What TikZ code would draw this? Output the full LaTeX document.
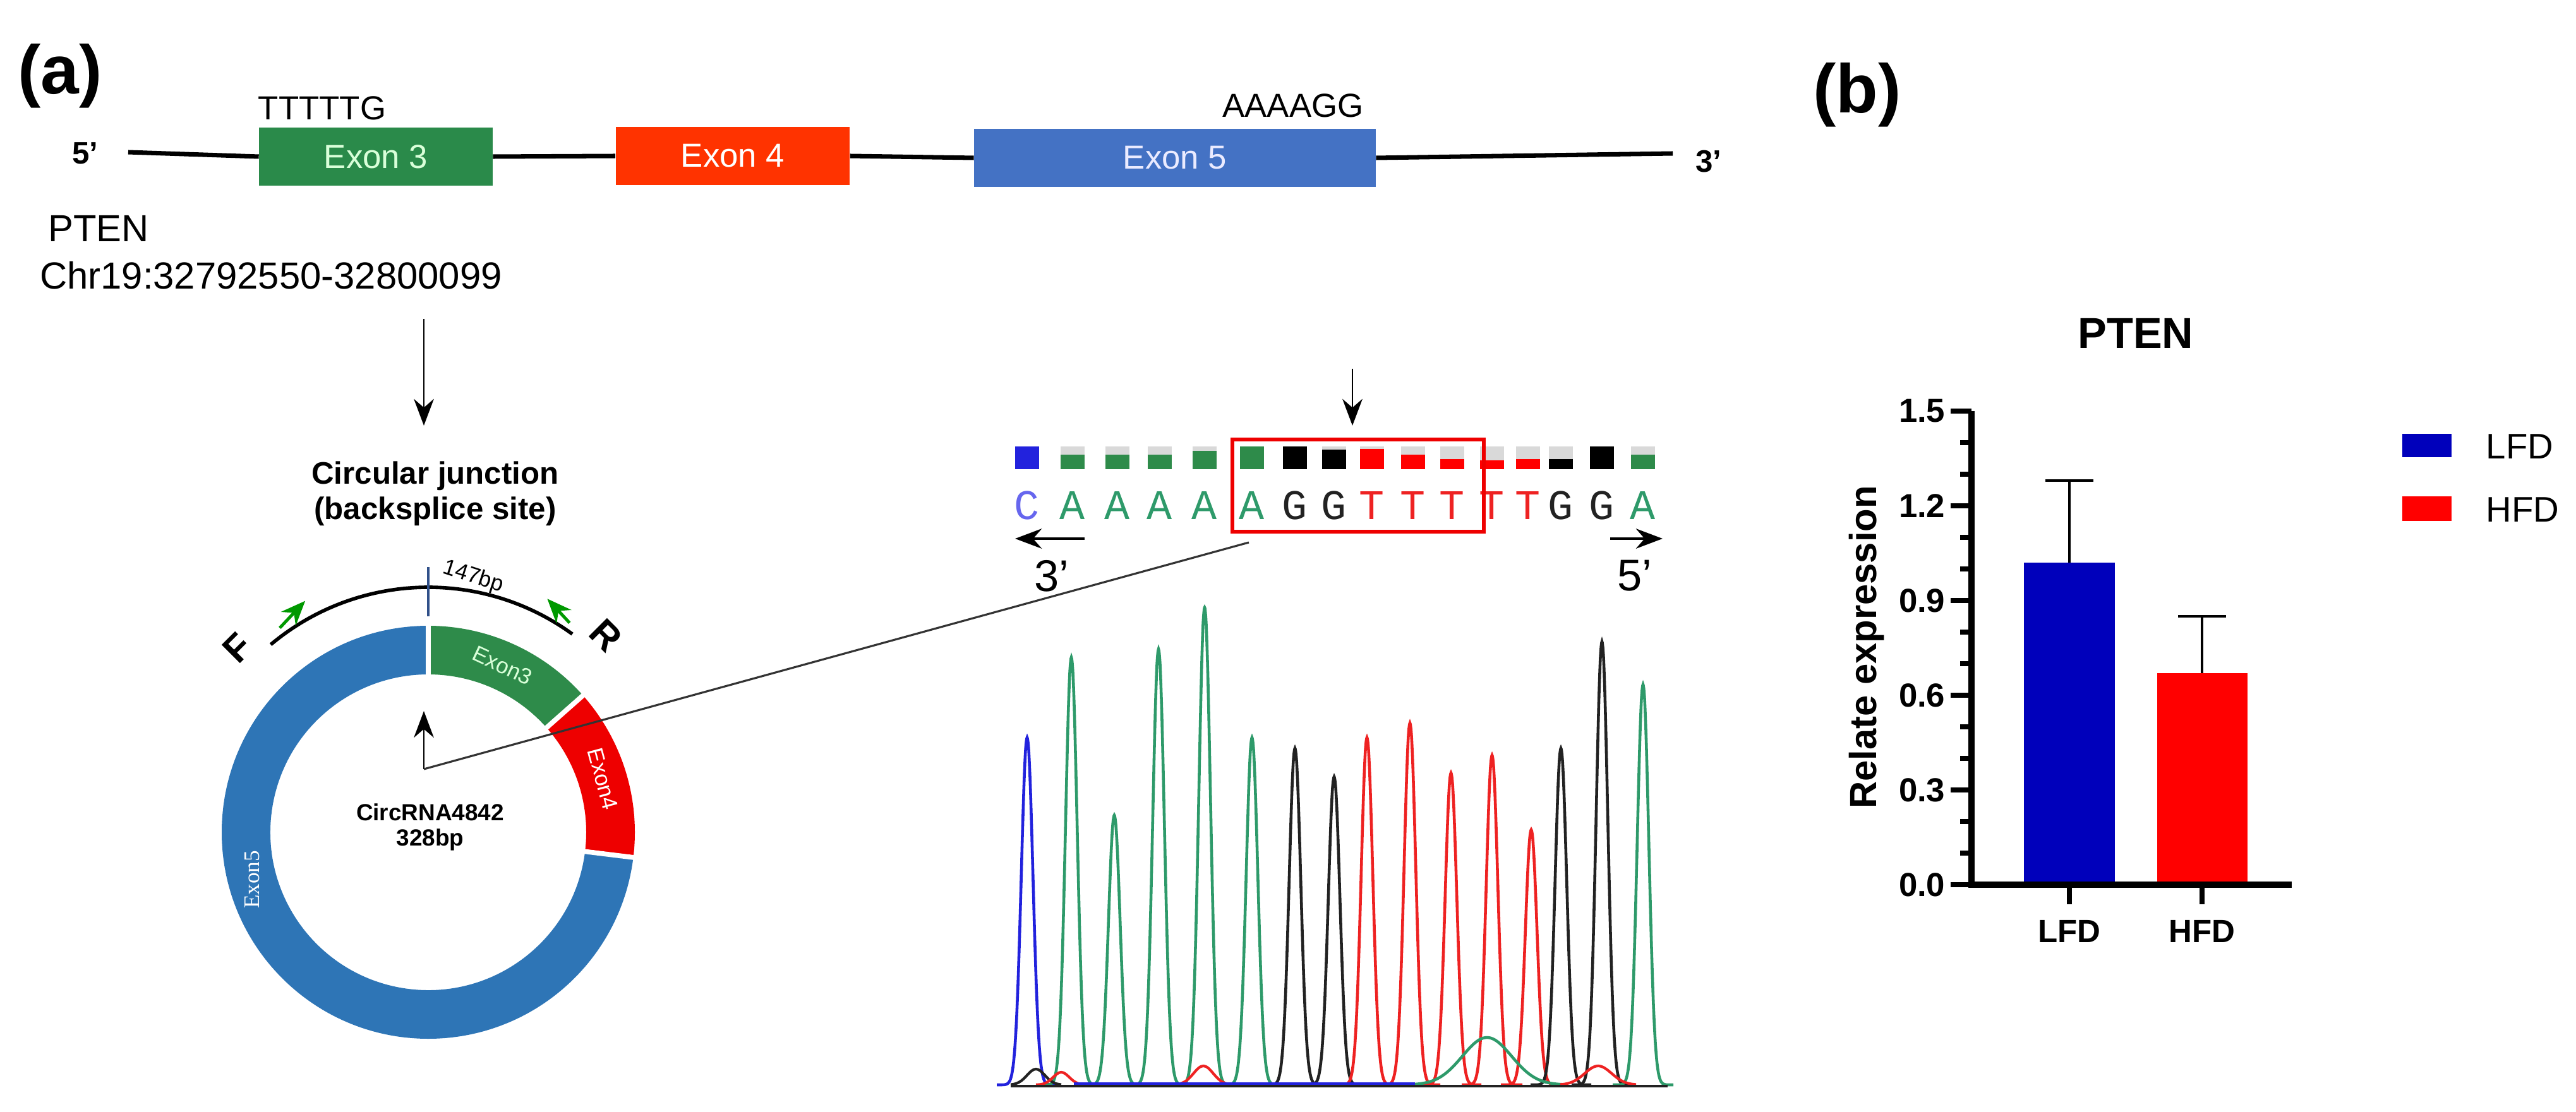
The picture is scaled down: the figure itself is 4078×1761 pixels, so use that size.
\documentclass[tikz,border=0pt]{standalone}
\usepackage{fontspec}
\setmainfont{Liberation Sans}
\newfontfamily\monof{Liberation Mono}
\newfontfamily\serf{Liberation Serif}
\usetikzlibrary{arrows.meta}
\definecolor{exg}{HTML}{2A8A4A}
\definecolor{exr}{HTML}{FF3300}
\definecolor{exb}{HTML}{4472C4}
\definecolor{rb}{HTML}{2E75B6}
\definecolor{rg}{HTML}{2E8B4A}
\definecolor{rr}{HTML}{EE0000}
\definecolor{cg}{HTML}{2E9A6A}
\definecolor{cb}{HTML}{2222DD}
\definecolor{cbl}{HTML}{6666EE}
\definecolor{cr}{HTML}{EE2222}
\definecolor{ck}{HTML}{222222}
\definecolor{barb}{HTML}{0000BB}
\definecolor{barr}{HTML}{FF0000}
\newcommand{\fs}[1]{\fontsize{#1pt}{#1pt}\selectfont}
\begin{document}
\begin{tikzpicture}[x=0.01cm,y=-0.01cm,
  exon/.style={draw=none,minimum height=0.92cm,inner sep=0,text=white,font=\fs{15}},
  arr/.style={-{Stealth[length=12,width=9]},line width=0.8pt},
  lbl/.style={inner sep=0},
  tick/.style={line width=2.6pt}]
\useasboundingbox (0,0) rectangle (4078,1761);
% ---------- (a) gene structure
\node[lbl,font=\bfseries\fs{31}] (la) at (95,120) {(a)};
\node[lbl,font=\bfseries\fs{31}] (lb) at (2940,150) {(b)};
\node[lbl,font=\bfseries\fs{14}] (p5) at (135,243) {5’};
\node[lbl,font=\bfseries\fs{14}] (p3) at (2705,256) {3’};
\node[exon,fill=exg,minimum width=3.69cm,text=green!15] (e3) at (595,248) {Exon 3};
\node[exon,fill=exr,minimum width=3.70cm] (e4) at (1160,247) {Exon 4};
\node[exon,fill=exb,minimum width=6.35cm,text=blue!8] (e5) at (1860,250) {Exon 5};
\coordinate (gl0) at (203,241); \coordinate (gl1) at (2648,243);
\draw[line width=2pt] (gl0) -- (e3.west);
\draw[line width=2pt] (e3.east) -- (e4.west);
\draw[line width=2pt] (e4.east) -- (e5.west);
\draw[line width=2pt] (e5.east) -- (gl1);
\node[lbl,font=\fs{15},anchor=base] (t1) at (510,190) {TTTTTG};
\node[lbl,font=\fs{15},anchor=base] (t2) at (2047,186) {AAAAGG};
\node[lbl,font=\fs{17}] (pten) at (156,362) {PTEN};
\node[lbl,font=\fs{17}] (chr) at (429,436) {Chr19:32792550-32800099};
\coordinate (a1s) at (671,505);
\node[lbl,font=\bfseries\fs{14},align=center] (cj) at (689,782) {Circular junction\\[2pt](backsplice site)};
\coordinate (a1e) at (671,674);
\draw[arr] (a1s) -- (a1e);
% ---------- circle
\coordinate (ctr) at (678,1318);
\begin{scope}[shift={(678,1318)},yscale=-1]
 \fill[rb] (90:327) arc[start angle=90,end angle=353,radius=327] -- (353:250) arc[start angle=353,end angle=90,radius=250] -- cycle;
 \fill[rg] (90:327) arc[start angle=90,end angle=41.5,radius=327] -- (41.5:250) arc[start angle=41.5,end angle=90,radius=250] -- cycle;
 \fill[rr] (41.5:327) arc[start angle=41.5,end angle=-7,radius=327] -- (-7:250) arc[start angle=-7,end angle=41.5,radius=250] -- cycle;
 \draw[white,line width=2.2pt] (90:245) -- (90:332) (41.5:245) -- (41.5:332) (-7:245) -- (-7:332);
 \draw[line width=1.6pt] (130:388) arc[start angle=130,end angle=54,radius=388];
 \draw[exb!70!black,line width=1.2pt] (90:342) -- (90:420);
 \node[lbl,font=\fs{10},rotate=-18] (bp) at (80:410) {147bp};
 \node[lbl,font=\bfseries\fs{17},rotate=45] (F) at (136:420) {F};
 \node[lbl,font=\bfseries\fs{17},rotate=-45] (R) at (48:420) {R};
 \draw[-{Stealth[length=11,width=9]},line width=1.4pt,green!60!black] (126:400) -- (118:415);
 \draw[-{Stealth[length=11,width=9]},line width=1.4pt,green!60!black] (56:400) -- (63:415);
 \node[lbl,font=\fs{10},text=white!85!green,rotate=-25] (x3) at (66:289) {Exon3};
 \node[lbl,font=\fs{10},text=white,rotate=-75] (x4) at (17:289) {Exon4};
 \node[lbl,font=\serf\fs{10},text=white,rotate=90] (x5) at (195:289) {Exon5};
\end{scope}
\node[lbl,font=\bfseries\fs{10.5},align=center] (circ) at (681,1310) {CircRNA4842\\[1pt]328bp};
\coordinate (ia0) at (671,1218); \coordinate (ia1) at (671,1126);
\draw[arr] (ia0) -- (ia1);
% ---------- sequence
\coordinate (da0) at (2141,584); \coordinate (da1) at (2141,674);
\draw[arr] (da0) -- (da1);
\def\xs{{1626,1698,1769,1836,1907,1982,2050,2112,2172,2237,2299,2362,2419,2471,2536,2601}}
\foreach \i/\L/\col/\g/\tc in {0/C/cb/0/cbl,1/A/rg/0.35/cg,2/A/rg/0.35/cg,3/A/rg/0.35/cg,4/A/rg/0.2/cg,5/A/rg/0/cg,6/G/black/0/ck,7/G/black/0.15/ck,8/T/red/0.1/cr,9/T/red/0.35/cr,10/T/red/0.55/cr,11/T/red/0.6/cr,12/T/red/0.55/cr,13/G/black/0.55/ck,14/G/black/0/ck,15/A/rg/0.35/cg}{
  \pgfmathsetmacro{\xc}{\xs[\i]}
  \fill[black!15] (\xc-19,707) rectangle (\xc+19,743);
  \fill[\col] (\xc-19,707+36*\g) rectangle (\xc+19,743);
  \node[lbl,font=\monof\fs{19},text=\tc] (s\i) at (\xc,800) {\L};
}
\node[draw=rr,line width=1.6pt,minimum width=3.98cm,minimum height=1.46cm,inner sep=0] (box) at (2150,769) {};
\coordinate (l3a) at (1717,853); \coordinate (l3b) at (1607,853);
\coordinate (l5a) at (2549,853); \coordinate (l5b) at (2632,853);
\draw[arr,line width=1pt] (l3a) -- (l3b);
\draw[arr,line width=1pt] (l5a) -- (l5b);
\node[lbl,font=\fs{20}] (t3) at (1665,912) {3’};
\node[lbl,font=\fs{20}] (t5) at (2588,912) {5’};
\coordinate (lnE) at (1977,859);
\draw[line width=0.9pt,black!80] (ia0) -- (lnE);
% ---------- chromatogram
\foreach \c/\t/\col in {1626/1168/cb,1696/1041/cg,1764/1291/cg,1834/1028/cg,1907/962/cg,1982/1168/cg,2050/1185/ck,2112/1230/ck,2164/1168/cr,2232/1145/cr,2297/1224/cr,2362/1196/cr,2424/1314/cr,2471/1185/ck,2536/1016/ck,2601/1084/cg}{
  \draw[\col,line width=1.3pt] plot[smooth,domain=\c-48:\c+48,samples=41] (\x,{1718-(1718-\t)*exp(-((\x-\c)/13)^2)});
}
\draw[cg,line width=1.3pt] plot[smooth,domain=2240:2480,samples=41] (\x,{1718-75*exp(-((\x-2354)/55)^2)});
\draw[cr,line width=1.2pt] plot[smooth,domain=1860:1950,samples=25] (\x,{1718-30*exp(-((\x-1905)/22)^2)});
\draw[ck,line width=1.2pt] plot[smooth,domain=1600:1680,samples=25] (\x,{1718-25*exp(-((\x-1640)/20)^2)});
\draw[cr,line width=1.2pt] plot[smooth,domain=1640:1720,samples=25] (\x,{1718-20*exp(-((\x-1680)/18)^2)});
\draw[cr,line width=1.2pt] plot[smooth,domain=2470:2590,samples=25] (\x,{1718-30*exp(-((\x-2530)/30)^2)});
\draw[cb,line width=1.2pt] (1700,1716) -- (2240,1716);
\draw[ck,line width=1.0pt] (1600,1720) -- (2640,1720);
% ---------- (b) bar chart
\node[lbl,font=\bfseries\fs{19.5}] (ttl) at (3381,528) {PTEN};
\coordinate (yo) at (3121,1401); \coordinate (yt) at (3121,651); \coordinate (xe) at (3628,1401);
\fill[barb] (3204,1401) rectangle (3348,891);
\fill[barr] (3415,1401) rectangle (3558,1066);
\coordinate (eb1) at (3276,891); \coordinate (et1) at (3276,761);
\coordinate (eb2) at (3486,1066); \coordinate (et2) at (3486,976);
\draw[line width=1pt] (eb1) -- (et1) (3238,761) -- (3314,761);
\draw[line width=1pt] (eb2) -- (et2) (3448,976) -- (3524,976);
\draw[tick] (yt) -- (yo) -- (xe);
\foreach \v in {0,1,...,15}{\draw[line width=2.4pt] (3121,1401-50*\v) -- (3103,1401-50*\v);}
\foreach \v/\t in {0/0.0,3/0.3,6/0.6,9/0.9,12/1.2,15/1.5}{
  \draw[line width=2.4pt] (3121,1401-50*\v) -- (3088,1401-50*\v);
  \node[lbl,font=\bfseries\fs{15},anchor=east] at (3080,1401-50*\v) {\t};}
\draw[line width=2.4pt] (3276,1401) -- (3276,1432) (3486,1401) -- (3486,1432);
\node[lbl,font=\bfseries\fs{14.5}] (cl) at (3276,1475) {LFD};
\node[lbl,font=\bfseries\fs{14.5}] (ch) at (3486,1475) {HFD};
\node[lbl,font=\bfseries\fs{17},rotate=90] (yl) at (2955,1025) {Relate expression};
\fill[barb] (3803,687) rectangle (3881,724);
\fill[barr] (3803,786) rectangle (3881,825);
\node[lbl,font=\fs{16},anchor=west] (lg1) at (3935,707) {LFD};
\node[lbl,font=\fs{16},anchor=west] (lg2) at (3935,807) {HFD};
\end{tikzpicture}
\end{document}
